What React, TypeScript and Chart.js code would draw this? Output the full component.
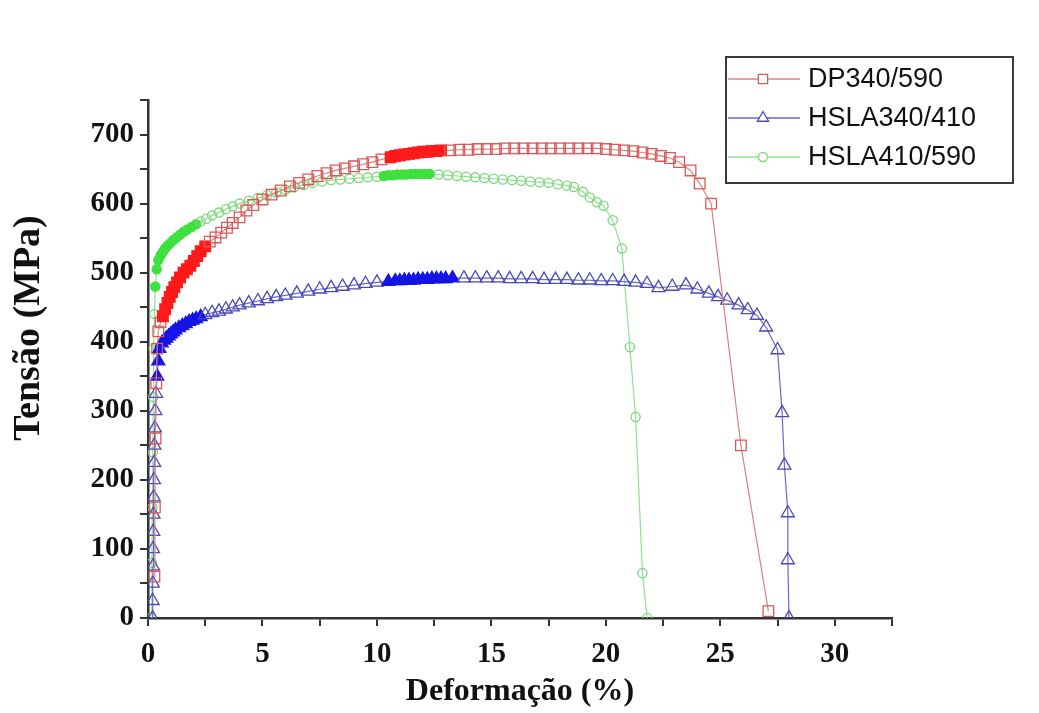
import React, { useEffect, useRef } from 'react';
import { Chart, registerables } from 'chart.js';
import { drawPoint } from 'chart.js/helpers';

Chart.register(...registerables);

// ---- data ----
const seriesNames = ['DP340/590', 'HSLA340/410', 'HSLA410/590'];
const xAxisTitle = 'Deformação (%)';
const yAxisTitle = 'Tensão (MPa)';

const dpX = [0.28, 0.3, 0.33, 0.36, 0.4, 0.45, 0.55, 0.65, 0.75, 0.85, 0.95, 1.05, 1.15, 1.27, 1.4, 1.55, 1.7, 1.85, 2.0, 2.15, 2.3, 2.5, 2.7, 2.95, 3.2, 3.45, 3.7, 4.0, 4.3, 4.6, 5.0, 5.4, 5.8, 6.2, 6.6, 7.0, 7.4, 7.8, 8.2, 8.6, 9.0, 9.4, 9.8, 10.2, 10.6, 10.8, 11.0, 11.2, 11.4, 11.6, 11.8, 12.0, 12.2, 12.4, 12.6, 12.8, 13.2, 13.6, 14.0, 14.4, 14.8, 15.2, 15.6, 16.0, 16.4, 16.8, 17.2, 17.6, 18.0, 18.4, 18.8, 19.2, 19.6, 20.0, 20.4, 20.8, 21.2, 21.6, 22.0, 22.4, 22.8, 23.2, 23.7, 24.1, 24.6, 25.9, 27.1];
const dpY = [60, 160, 260, 340, 390, 415, 428, 437, 447, 456, 465, 472, 479, 486, 493, 500, 505, 510, 517, 524, 531, 538, 545, 551, 558, 565, 572, 580, 590, 598, 606, 613, 619, 625, 630, 635, 640, 644, 648, 651, 654, 657, 660, 664, 667, 669, 670, 671, 672, 673, 674, 675, 675, 676, 676, 677, 677, 678, 678, 679, 679, 679, 680, 680, 680, 680, 680, 680, 680, 680, 680, 680, 680, 679, 678, 677, 676, 674, 672, 669, 666, 660, 648, 629, 600, 250, 10];

const hsla340X = [0.2, 0.2, 0.21, 0.22, 0.22, 0.23, 0.24, 0.25, 0.26, 0.27, 0.28, 0.3, 0.32, 0.35, 0.4, 0.45, 0.5, 0.6, 0.7, 0.8, 0.9, 1.0, 1.1, 1.2, 1.35, 1.5, 1.65, 1.8, 1.95, 2.1, 2.3, 2.5, 2.8, 3.1, 3.4, 3.7, 4.0, 4.4, 4.8, 5.2, 5.6, 6.0, 6.5, 7.0, 7.5, 8.0, 8.5, 9.0, 9.5, 10.0, 10.5, 10.8, 11.0, 11.2, 11.4, 11.6, 11.8, 12.0, 12.2, 12.4, 12.6, 12.8, 13.0, 13.3, 13.8, 14.3, 14.8, 15.3, 15.8, 16.3, 16.8, 17.3, 17.8, 18.3, 18.8, 19.3, 19.8, 20.3, 20.8, 21.3, 21.8, 22.3, 22.9, 23.5, 24.0, 24.5, 24.9, 25.3, 25.8, 26.2, 26.6, 27.0, 27.5, 27.7, 27.8, 27.95, 27.95, 28.0];
const hsla340Y = [0, 25, 50, 75, 100, 125, 150, 175, 200, 225, 250, 275, 300, 325, 350, 372, 390, 398, 402, 405, 408, 411, 414, 417, 420, 423, 426, 429, 431, 433, 436, 439, 442, 444, 447, 450, 453, 456, 459, 462, 465, 467, 470, 473, 476, 478, 480, 482, 484, 486, 487, 488, 488, 489, 489, 489, 490, 490, 490, 491, 491, 491, 491, 492, 492, 492, 492, 492, 491, 491, 491, 490, 490, 490, 489, 489, 488, 488, 487, 486, 484, 478, 480, 482, 476, 470, 465, 460, 453, 446, 438, 421, 388, 297, 221, 152, 84, 0];

const hsla410X = [0.15, 0.17, 0.19, 0.21, 0.23, 0.25, 0.28, 0.32, 0.38, 0.45, 0.55, 0.65, 0.75, 0.85, 0.95, 1.1, 1.25, 1.4, 1.55, 1.7, 1.9, 2.1, 2.3, 2.55, 2.8, 3.1, 3.4, 3.7, 4.0, 4.4, 4.8, 5.2, 5.6, 6.0, 6.4, 6.8, 7.2, 7.6, 8.0, 8.4, 8.8, 9.2, 9.6, 10.0, 10.3, 10.5, 10.7, 10.9, 11.1, 11.3, 11.5, 11.7, 11.9, 12.1, 12.3, 12.7, 13.1, 13.5, 13.9, 14.3, 14.7, 15.1, 15.5, 15.9, 16.3, 16.7, 17.1, 17.5, 17.9, 18.3, 18.6, 19.0, 19.3, 19.6, 19.9, 20.3, 20.7, 21.05, 21.3, 21.6, 21.8];
const hsla410Y = [0, 80, 160, 240, 320, 390, 440, 480, 505, 518, 525, 530, 535, 539, 542, 547, 551, 555, 559, 562, 566, 570, 574, 578, 583, 587, 592, 596, 600, 604, 608, 612, 616, 620, 624, 627, 630, 632, 634, 635, 636, 637, 638, 639, 640, 641, 641, 642, 642, 642, 643, 643, 643, 643, 643, 642, 641, 640, 639, 638, 637, 636, 635, 634, 633, 632, 631, 630, 628, 626, 624, 617, 609, 602, 597, 576, 535, 392, 291, 65, 0];

const xTickStep = 2.5;
const yTickStep = 50;

// ---- styles ----
const styles = [
  { line: '#e08080', marker: '#d85a5a', dense: '#ff1a1a', shape: 'rect', radius: 7.5, denseRanges: [[0.6, 2.6], [10.5, 12.9]] },
  { line: '#6a6ac8', marker: '#4a4ab8', dense: '#1414e6', shape: 'triangle', radius: 7.5, denseRanges: [[0.4, 2.4], [10.4, 13.4]] },
  { line: '#8fe08f', marker: '#7ad87a', dense: '#3ee03e', shape: 'circle', radius: 4.6, denseRanges: [[0.3, 2.2], [10.2, 12.4]] },
];
const serif = '"Liberation Serif", "Times New Roman", serif';

const zip = (xs: number[], ys: number[]) => xs.map((x, i) => ({ x, y: ys[i] }));
const seriesData = [zip(dpX, dpY), zip(hsla340X, hsla340Y), zip(hsla410X, hsla410Y)];

const legendPlugin = {
  id: 'boxLegend',
  afterDraw(chart: any) {
    const ctx = chart.ctx;
    const left = 726, top = 57, width = 287, height = 126;
    const rows = [79, 118, 157];
    ctx.save();
    ctx.strokeStyle = '#3a3a3a';
    ctx.lineWidth = 2;
    ctx.strokeRect(left, top, width, height);
    chart.data.datasets.forEach((ds: any, i: number) => {
      const st = styles[i];
      const y = rows[i];
      ctx.strokeStyle = st.line;
      ctx.lineWidth = 1.5;
      ctx.beginPath();
      ctx.moveTo(left + 2, y);
      ctx.lineTo(left + 74, y);
      ctx.stroke();
      ctx.fillStyle = '#ffffff';
      ctx.strokeStyle = st.marker;
      ctx.lineWidth = 1.3;
      drawPoint(ctx, { pointStyle: st.shape, radius: st.shape === 'circle' ? 4.5 : 6.5, rotation: 0, borderWidth: 1.3 } as any, left + 37, y);
      ctx.fillStyle = '#111111';
      ctx.font = '27px "Liberation Sans", Arial, sans-serif';
      ctx.textBaseline = 'middle';
      ctx.textAlign = 'left';
      ctx.fillText(ds.label, left + 82, y + 1);
    });
    ctx.restore();
  },
};

const yTitlePlugin = {
  id: 'yTitle',
  afterDraw(chart: any) {
    const ctx = chart.ctx;
    ctx.save();
    ctx.translate(29, 328);
    ctx.rotate(-Math.PI / 2);
    ctx.font = `bold 38px ${serif}`;
    ctx.fillStyle = '#111';
    ctx.textAlign = 'center';
    ctx.textBaseline = 'middle';
    ctx.fillText(yAxisTitle, 0, 0);
    ctx.restore();
  },
};

export default function App() {
  const ref = useRef<HTMLCanvasElement | null>(null);
  useEffect(() => {
    if (!ref.current) return;
    const inDense = (i: number, x: number) => styles[i].denseRanges.some(([a, b]) => x >= a && x <= b);
    const datasets = seriesNames.map((name, i) => ({
      label: name,
      data: seriesData[i],
      borderColor: styles[i].line,
      borderWidth: 1.2,
      pointStyle: styles[i].shape,
      pointRadius: styles[i].radius,
      pointBorderWidth: 1.3,
      pointBorderColor: (c: any) => (c.raw && inDense(i, c.raw.x) ? styles[i].dense : styles[i].marker),
      pointBackgroundColor: (c: any) => (c.raw && inDense(i, c.raw.x) ? styles[i].dense : 'rgba(255,255,255,0)'),
      tension: 0,
      fill: false,
      showLine: true,
    }));
    const tickFont = { family: serif, size: 29, weight: 'bold' as const };
    const titleFont = { family: serif, size: 32, weight: 'bold' as const };
    const chart = new Chart(ref.current, {
      type: 'scatter',
      data: { datasets },
      options: {
        responsive: false,
        animation: false,
        layout: { padding: { top: 100, right: 147, left: 0, bottom: 0 } },
        plugins: { legend: { display: false }, tooltip: { enabled: false } },
        scales: {
          x: {
            type: 'linear',
            min: 0,
            max: 32.5,
            afterFit: (s: any) => { s.height = 95; },
            ticks: {
              stepSize: xTickStep,
              autoSkip: false,
              maxRotation: 0,
              color: '#111',
              font: tickFont,
              padding: 11,
              callback: (v: any) => (Number(v) % 5 === 0 ? String(v) : ''),
            },
            grid: { drawOnChartArea: false, drawTicks: true, tickLength: 8, color: '#333', lineWidth: 2 },
            border: { display: true, color: '#333', width: 2.5 },
            title: { display: true, text: xAxisTitle, color: '#111', font: titleFont, padding: { top: 0, bottom: 2 } },
          },
          y: {
            type: 'linear',
            min: 0,
            max: 750,
            afterFit: (s: any) => { s.width = 148; },
            ticks: {
              stepSize: yTickStep,
              autoSkip: false,
              color: '#111',
              font: tickFont,
              padding: 6,
              callback: (v: any) => (Number(v) % 100 === 0 ? String(v) : ''),
            },
            grid: { drawOnChartArea: false, drawTicks: true, tickLength: 8, color: '#333', lineWidth: 2 },
            border: { display: true, color: '#333', width: 2.5 },
            title: { display: false },
          },
        },
      },
      plugins: [legendPlugin, yTitlePlugin],
    });
    return () => chart.destroy();
  }, []);
  return (
    <div style={{ position: 'absolute', left: 0, top: 0, width: 1039, height: 713, background: '#fff' }}>
      <canvas ref={ref} width={1039} height={713} style={{ display: 'block' }} />
    </div>
  );
}
